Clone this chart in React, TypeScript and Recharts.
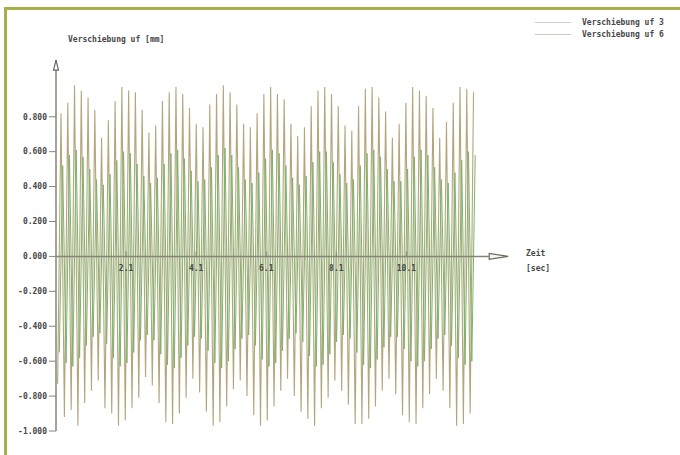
import React from 'react';
import { LineChart, Line, XAxis, YAxis, ReferenceLine, ReferenceDot } from 'recharts';

const SERIES_NAMES = ['Verschiebung uf 3', 'Verschiebung uf 6'];
const Y_TITLE = 'Verschiebung uf [mm]';
const X_TITLE = ['Zeit', '[sec]'];
const Y_TICKS = [-1, -0.8, -0.6, -0.4, -0.2, 0, 0.2, 0.4, 0.6, 0.8];
const X_TICKS = [2.1, 4.1, 6.1, 8.1, 10.1];

// sampling grid of the oscillation (time of first peak, oscillation period)
const FIRST_PEAK_T = 0.243;
const PERIOD = 0.193;
const UF6_SHIFT = 0.048;

// successive maxima / minima
const UF3_PEAKS = [0.82, 0.88, 0.98, 0.95, 0.91, 0.84, 0.68, 0.78, 0.89, 0.97, 0.95, 0.94, 0.84, 0.71, 0.75, 0.89, 0.94, 0.97, 0.93, 0.85, 0.76, 0.74, 0.87, 0.93, 0.98, 0.94, 0.87, 0.76, 0.74, 0.82, 0.93, 0.97, 0.93, 0.90, 0.76, 0.69, 0.74, 0.86, 0.95, 0.97, 0.93, 0.86, 0.75, 0.72, 0.86, 0.96, 0.97, 0.91, 0.83, 0.68, 0.76, 0.88, 0.97, 0.95, 0.92, 0.85, 0.68, 0.77, 0.88, 0.97, 0.96, 0.94];
const UF3_TROUGHS = [-0.73, -0.92, -0.88, -0.97, -0.84, -0.77, -0.71, -0.87, -0.90, -0.97, -0.94, -0.87, -0.81, -0.69, -0.74, -0.84, -0.95, -0.96, -0.90, -0.81, -0.70, -0.78, -0.89, -0.97, -0.95, -0.86, -0.76, -0.71, -0.80, -0.91, -0.97, -0.94, -0.86, -0.77, -0.70, -0.80, -0.89, -0.93, -0.97, -0.87, -0.81, -0.71, -0.77, -0.85, -0.96, -0.96, -0.93, -0.86, -0.77, -0.70, -0.79, -0.91, -0.95, -0.96, -0.87, -0.79, -0.70, -0.77, -0.87, -0.97, -0.96, -0.90];
const UF6_PEAKS = [0.52, 0.58, 0.61, 0.57, 0.50, 0.44, 0.41, 0.47, 0.55, 0.60, 0.59, 0.53, 0.46, 0.42, 0.45, 0.53, 0.59, 0.61, 0.56, 0.49, 0.43, 0.44, 0.51, 0.58, 0.62, 0.58, 0.51, 0.44, 0.42, 0.48, 0.56, 0.61, 0.59, 0.52, 0.45, 0.41, 0.46, 0.54, 0.60, 0.60, 0.54, 0.47, 0.42, 0.44, 0.52, 0.59, 0.61, 0.57, 0.50, 0.43, 0.43, 0.50, 0.57, 0.61, 0.58, 0.51, 0.44, 0.42, 0.48, 0.55, 0.60, 0.58];
const UF6_TROUGHS = [-0.55, -0.61, -0.63, -0.58, -0.51, -0.46, -0.44, -0.50, -0.58, -0.63, -0.61, -0.55, -0.48, -0.45, -0.48, -0.56, -0.62, -0.64, -0.58, -0.51, -0.46, -0.47, -0.54, -0.61, -0.64, -0.60, -0.53, -0.47, -0.45, -0.51, -0.59, -0.63, -0.61, -0.54, -0.47, -0.44, -0.49, -0.57, -0.63, -0.62, -0.56, -0.49, -0.45, -0.47, -0.55, -0.62, -0.64, -0.59, -0.52, -0.46, -0.46, -0.53, -0.60, -0.63, -0.60, -0.53, -0.47, -0.45, -0.51, -0.58, -0.62, -0.60];

type Pt = { t: number; v: number };
function buildSeries(peaks: number[], troughs: number[], shift: number): Pt[] {
  const out: Pt[] = [];
  peaks.forEach((p, k) => {
    const tp = FIRST_PEAK_T + shift + k * PERIOD;
    out.push({ t: +(tp - PERIOD / 2).toFixed(4), v: troughs[k] });
    out.push({ t: +tp.toFixed(4), v: p });
  });
  return out;
}

const uf3 = buildSeries(UF3_PEAKS, UF3_TROUGHS, 0);
const uf6 = buildSeries(UF6_PEAKS, UF6_TROUGHS, UF6_SHIFT);

const COLORS = ['#b3a67c', '#7db26c'];
const LEGEND_COLORS = ['#d2cfc4', '#c7ccc3'];
const AXIS = '#858578';
const TXT = '#474747';
const MONO = '"DejaVu Sans Mono", monospace';

const XTick = (props: any) => {
  const { cx, cy, text } = props;
  return (
    <g>
      <line x1={cx} x2={cx} y1={cy - 5} y2={cy + 1} stroke={AXIS} strokeWidth={1} />
      <text x={cx} y={cy + 15} textAnchor="middle" fontSize={8} fontFamily={MONO} fontWeight="bold" fill={TXT}>
        {text}
      </text>
    </g>
  );
};

const UpArrow = (props: any) => {
  const { cx, cy } = props;
  return <path d={`M${cx},${cy - 6} L${cx - 2.5},${cy + 4} L${cx + 2.5},${cy + 4} Z`} fill="#fff" stroke="#666" strokeWidth={1.2} />;
};

const RightArrow = (props: any) => {
  const { cx, cy } = props;
  return <path d={`M${cx + 10},${cy} L${cx - 9},${cy - 3} L${cx - 9},${cy + 3} Z`} fill="#f4f4f0" stroke="#6a6a62" strokeWidth={1.2} />;
};

export default function App() {
  return (
    <div style={{ position: 'absolute', left: 0, top: 0, width: 680, height: 455, background: '#fff', overflow: 'hidden' }}>
      <div style={{ position: 'absolute', left: 4, top: 7, width: 680, height: 455, borderTop: '3px solid #a9ae4a', borderLeft: '3px solid #a9ae4a' }} />
      <LineChart width={680} height={455} margin={{ top: 60, right: 172, bottom: 24, left: 8 }}>
        <XAxis type="number" dataKey="t" domain={[0.1, 13]} allowDataOverflow hide />
        <YAxis
          type="number"
          domain={[-1, 1.125]}
          allowDataOverflow
          ticks={Y_TICKS}
          interval={0}
          width={48}
          tickFormatter={(v: number) => v.toFixed(3)}
          axisLine={{ stroke: AXIS, strokeWidth: 1.5 }}
          tickLine={{ stroke: AXIS }}
          tickSize={7}
          tick={{ fontSize: 8, fill: TXT, fontFamily: MONO, fontWeight: 'bold' }}
        />
        <Line data={uf3} dataKey="v" name={SERIES_NAMES[0]} type="linear" stroke={COLORS[0]} strokeWidth={1.1} dot={false} isAnimationActive={false} />
        <Line data={uf6} dataKey="v" name={SERIES_NAMES[1]} type="linear" stroke={COLORS[1]} strokeWidth={1} dot={false} isAnimationActive={false} />
        <ReferenceLine segment={[{ x: 0.1, y: 0 }, { x: 12.45, y: 0 }]} stroke={AXIS} strokeWidth={1.5} />
        {X_TICKS.map((x) => (
          <ReferenceDot key={x} x={x} y={0} r={1} shape={(p: any) => <XTick {...p} text={String(x)} />} />
        ))}
        <ReferenceDot x={0.1} y={1.09} r={1} shape={(p: any) => <UpArrow {...p} />} />
        <ReferenceDot x={12.72} y={0} r={1} shape={(p: any) => <RightArrow {...p} />} />
      </LineChart>
      <div style={{ position: 'absolute', left: 68, top: 35, fontFamily: MONO, fontSize: 8, fontWeight: 'bold', color: TXT, whiteSpace: 'pre' }}>{Y_TITLE}</div>
      <div style={{ position: 'absolute', left: 526, top: 246, fontFamily: MONO, fontSize: 8, fontWeight: 'bold', color: TXT, lineHeight: '15px', whiteSpace: 'pre' }}>
        <div>{X_TITLE[0]}</div>
        <div>{X_TITLE[1]}</div>
      </div>
      {SERIES_NAMES.map((n, i) => (
        <div key={n} style={{ position: 'absolute', left: 535, top: 16 + i * 12, height: 12, display: 'flex', alignItems: 'center', fontFamily: MONO, fontSize: 8, fontWeight: 'bold', color: TXT, whiteSpace: 'pre' }}>
          <div style={{ width: 36, height: 0, borderTop: `1px solid ${LEGEND_COLORS[i]}`, marginRight: 11 }} />
          <span>{n}</span>
        </div>
      ))}
    </div>
  );
}
